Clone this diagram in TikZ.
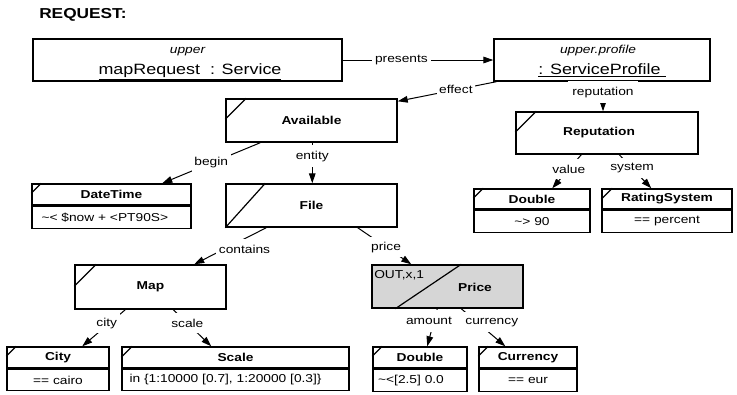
\documentclass[tikz,border=0pt]{standalone}
\usepackage{fontspec}
\setmainfont{Liberation Sans}[FakeStretch=1.2]
\usetikzlibrary{arrows.meta,calc}
\newcommand\nrm{\fontsize{8.6}{10}\selectfont}
\newcommand\bigtx{\fontsize{11.2}{13}\selectfont}
\newcommand\cornermark[2]{\draw[cornerln] (#1.north west) ++(0,#2) -- ++(#2,-#2);}
\begin{document}
\begin{tikzpicture}[x=0.75pt,y=-0.75pt,font=\nrm,
  box/.style={draw,line width=1.1pt,inner sep=0pt},
  wh/.style 2 args={minimum width=#1*0.75pt,minimum height=#2*0.75pt},
  bf/.style={font=\nrm\bfseries,inner sep=0pt},
  txt/.style={font=\nrm,inner sep=0pt},
  cornerln/.style={line width=0.9pt},
  conn/.style={draw,line width=0.75pt,-{Triangle[length=7.5pt,width=5pt]}},
  lab/.style={fill=white,inner xsep=2pt,inner ysep=0pt,minimum height=15pt,font=\nrm}]
\useasboundingbox (0,0) rectangle (737,394);

% title
\node[anchor=base west,inner sep=0pt,font=\fontsize{10.8}{12}\selectfont\bfseries] (title) at (39,18.5) {REQUEST:};

% top boxes
\node[box,wh={309}{42}] (mapreq) at (187.5,60) {};
\node[txt,anchor=base,font=\nrm\itshape] (mapreq-st) at (187.5,53) {upper};
\node[txt,anchor=base,font=\bigtx] (mapreq-n) at (190,74.3) {\underline{mapRequest\ \ : Service}};

\node[box,wh={216}{42}] (sprof) at (602,60) {};
\node[txt,anchor=base,font=\nrm\itshape] (sprof-st) at (598,53) {upper.profile};
\node[txt,anchor=base,font=\bigtx] (sprof-n) at (602,74.7) {\underline{: ServiceProfile\ }};

% main boxes
\node[box,wh={171}{43},font=\nrm\bfseries] (avail) at (311.5,120.5) {Available};
\node[box,wh={182}{42}] (rep) at (607,133) {};
\node[bf] (rep-t) at ($(rep.center)+(-8,0)$) {Reputation};
\node[box,wh={171}{43},font=\nrm\bfseries] (file) at (311.5,205.5) {File};
\node[box,wh={151}{44},font=\nrm\bfseries] (map) at (150.5,287) {Map};
\node[box,wh={151}{43},fill=black!16] (price) at (447.5,286.5) {};
\node[txt,anchor=base west] (price-m) at (374,278.5) {OUT,x,1};
\node[bf] (price-t) at (475,287) {Price};

% two-part boxes
\node[box,wh={159}{21},font=\nrm\bfseries] (dt) at (111.5,194.5) {DateTime};
\node[box,wh={159}{22},anchor=north] (dtv) at (dt.south) {};
\node[txt,anchor=west] (dtv-t) at ($(dtv.west)+(10,0)$) {\textasciitilde< \$now + <PT90S>};

\node[box,wh={116}{20},font=\nrm\bfseries] (dbl1) at (532,199) {Double};
\node[box,wh={116}{22},anchor=north,font=\nrm] (dbl1v) at (dbl1.south) {\textasciitilde> 90};

\node[box,wh={130}{20},font=\nrm\bfseries] (rs) at (667,199) {RatingSystem};
\node[box,wh={130}{22},anchor=north,font=\nrm] (rsv) at (rs.south) {== percent};

\node[box,wh={102}{21},font=\nrm\bfseries] (city) at (58,357.5) {City};
\node[box,wh={102}{21},anchor=north,font=\nrm] (cityv) at (city.south) {== cairo};

\node[box,wh={227}{21},font=\nrm\bfseries] (scale) at (235.5,357.5) {Scale};
\node[box,wh={227}{21},anchor=north] (scalev) at (scale.south) {};
\node[txt,anchor=west] (scalev-t) at ($(scalev.west)+(8,0)$) {in \{1:10000 [0.7], 1:20000 [0.3]\}};

\node[box,wh={94}{21},font=\nrm\bfseries] (dbl2) at (420,357.5) {Double};
\node[box,wh={94}{22},anchor=north] (dbl2v) at (dbl2.south) {};
\node[txt] (dbl2v-t) at ($(dbl2v.center)+(-9,0)$) {\textasciitilde<[2.5] 0.0};

\node[box,wh={98}{21},font=\nrm\bfseries] (cur) at (528,357.5) {Currency};
\node[box,wh={98}{22},anchor=north,font=\nrm] (curv) at (cur.south) {== eur};

% corner marks
\cornermark{avail}{21}
\cornermark{rep}{21}
\cornermark{map}{22}
\cornermark{dt}{10}
\cornermark{dbl1}{10}
\cornermark{rs}{11}
\cornermark{city}{10}
\cornermark{scale}{11}
\cornermark{dbl2}{10}
\cornermark{cur}{10}
\draw[cornerln] (file.south west) -- ($(file.north west)+(40,0)$);
\draw[cornerln] ($(price.south west)+(24,0)$) -- ($(price.north west)+(90,0)$);

% connector end points
\coordinate (repS) at ($(sprof.south)+(1,0)$);
\coordinate (repE) at (repS |- rep.north);
\coordinate (entS) at ($(avail.south west)+(87,0)$);
\coordinate (entE) at (entS |- file.north);

% connectors
\draw[conn] (mapreq.east) -- node[lab,pos=0.39] (l-presents) {presents} (sprof.west);
\draw[conn] ($(sprof.south west)+(3,0)$) -- node[lab,pos=0.41] (l-effect) {effect} ($(avail.north east)+(0,3)$);
\draw[conn] (repS) -- node[lab,pos=0.36,minimum height=16.5pt,minimum width=52pt] (l-rep) {reputation} (repE);
\draw[conn] ($(rep.south west)+(66,0)$) -- node[lab,pos=0.43] (l-value) {value} ($(dbl1.north west)+(79,0)$);
\draw[conn] ($(rep.south west)+(104,0)$) -- node[lab,pos=0.4] (l-system) {system} ($(rs.north west)+(50,0)$);
\draw[conn] ($(avail.south west)+(35,0)$) -- node[lab,pos=0.5] (l-begin) {begin} ($(dt.north west)+(131,0)$);
\draw[conn] (entS) -- node[lab,pos=0.33,minimum height=17pt] (l-entity) {entity} (entE);
\draw[conn] ($(file.south west)+(41,0)$) -- node[lab,pos=0.58,xshift=15pt] (l-contains) {contains} ($(map.north west)+(120,0)$);
\draw[conn] ($(file.south east)+(-40,0)$) -- node[lab,pos=0.53] (l-price) {price} ($(price.north west)+(40,0)$);
\draw[conn] ($(map.south west)+(51,0)$) -- node[lab,pos=0.37,xshift=-2pt] (l-city) {city} ($(city.north west)+(76,0)$);
\draw[conn] ($(map.south west)+(99,0)$) -- node[lab,pos=0.37] (l-scale) {scale} ($(scale.north west)+(90,0)$);
\draw[conn] ($(price.south west)+(66,0)$) -- node[lab,pos=0.33,xshift=-3.75pt,minimum height=17pt] (l-amount) {amount} ($(dbl2.north west)+(55,0)$);
\draw[conn] ($(price.south west)+(90,0)$) -- node[lab,pos=0.36,xshift=11pt] (l-currency) {currency} ($(cur.north west)+(27,0)$);
\end{tikzpicture}
\end{document}
